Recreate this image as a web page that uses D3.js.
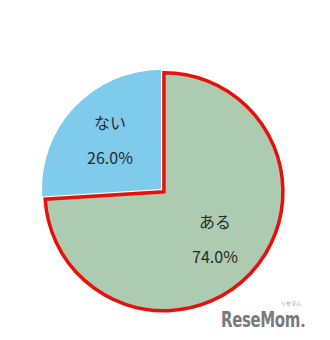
<!DOCTYPE html>
<html>
<head>
<meta charset="utf-8">
<script src="https://cdn.jsdelivr.net/npm/d3@7"></script>
<style>
  html, body { margin: 0; padding: 0; background: #fff; }
  svg { display: block; }
</style>
</head>
<body>
<svg width="330" height="340"></svg>
<script>
// データ
const categories = ["ある", "ない"];
const values = [74.0, 26.0];
const colors = ["#adcbb0", "#7ecbec"];

const svg = d3.select("svg");
const cx = 161, cy = 189, r = 119;

const pie = d3.pie().sort(null).value(d => d.value);
const arcs = pie(categories.map((c, i) => ({ name: c, value: values[i], color: colors[i] })));

const arc = d3.arc().innerRadius(0).outerRadius(r);
const labelArc = d3.arc().innerRadius(70).outerRadius(70);

// 「ある」は少し外に出す
const explode = i => i === 0 ? 4 : 0;

const g = svg.append("g").attr("transform", `translate(${cx},${cy})`);

const slices = g.selectAll("g.slice")
  .data(arcs.slice().reverse())
  .enter()
  .append("g")
  .attr("class", "slice")
  .attr("transform", d => {
    const a = (d.startAngle + d.endAngle) / 2;
    const e = explode(d.index);
    return `translate(${Math.sin(a) * e},${-Math.cos(a) * e})`;
  });

slices.append("path")
  .attr("d", arc)
  .attr("fill", d => d.data.color)
  .attr("stroke", d => d.index === 0 ? "#e8100c" : "none")
  .attr("stroke-width", 3.5)
  .attr("stroke-linejoin", "miter");

slices.append("text")
  .attr("transform", d => `translate(${labelArc.centroid(d)})`)
  .attr("text-anchor", "middle")
  .attr("font-family", "'Noto Sans CJK JP', sans-serif")
  .attr("font-size", 16)
  .attr("fill", "#2a2a2a")
  .each(function(d) {
    const t = d3.select(this);
    t.append("tspan").attr("x", 0).attr("y", -12).text(d.data.name);
    t.append("tspan").attr("x", 0).attr("y", 23).text(d.data.value.toFixed(1) + "%");
  });

// ロゴ (幅を合わせて横に縮める)
const logoW = 79;
const logo = svg.append("g").attr("transform", "translate(221,327)");
const logoInner = logo.append("g");
const logoText = logoInner.append("text")
  .attr("font-family", "'DejaVu Sans Condensed', sans-serif")
  .attr("font-weight", "bold")
  .attr("font-size", 22)
  .attr("letter-spacing", -0.5)
  .attr("fill", "#7a7a7a")
  .text("ReseMom");
const w = logoText.node().getComputedTextLength();
logoInner.attr("transform", `scale(${logoW / w},1)`);
logo.append("text")
  .attr("x", logoW - 9)
  .attr("y", -22)
  .attr("text-anchor", "middle")
  .attr("font-family", "'Noto Sans CJK JP', sans-serif")
  .attr("font-size", 5)
  .attr("fill", "#888")
  .text("リセマム");
logo.append("circle").attr("cx", logoW + 3).attr("cy", -1.6).attr("r", 1.6).attr("fill", "#7a7a7a");
</script>
</body>
</html>
